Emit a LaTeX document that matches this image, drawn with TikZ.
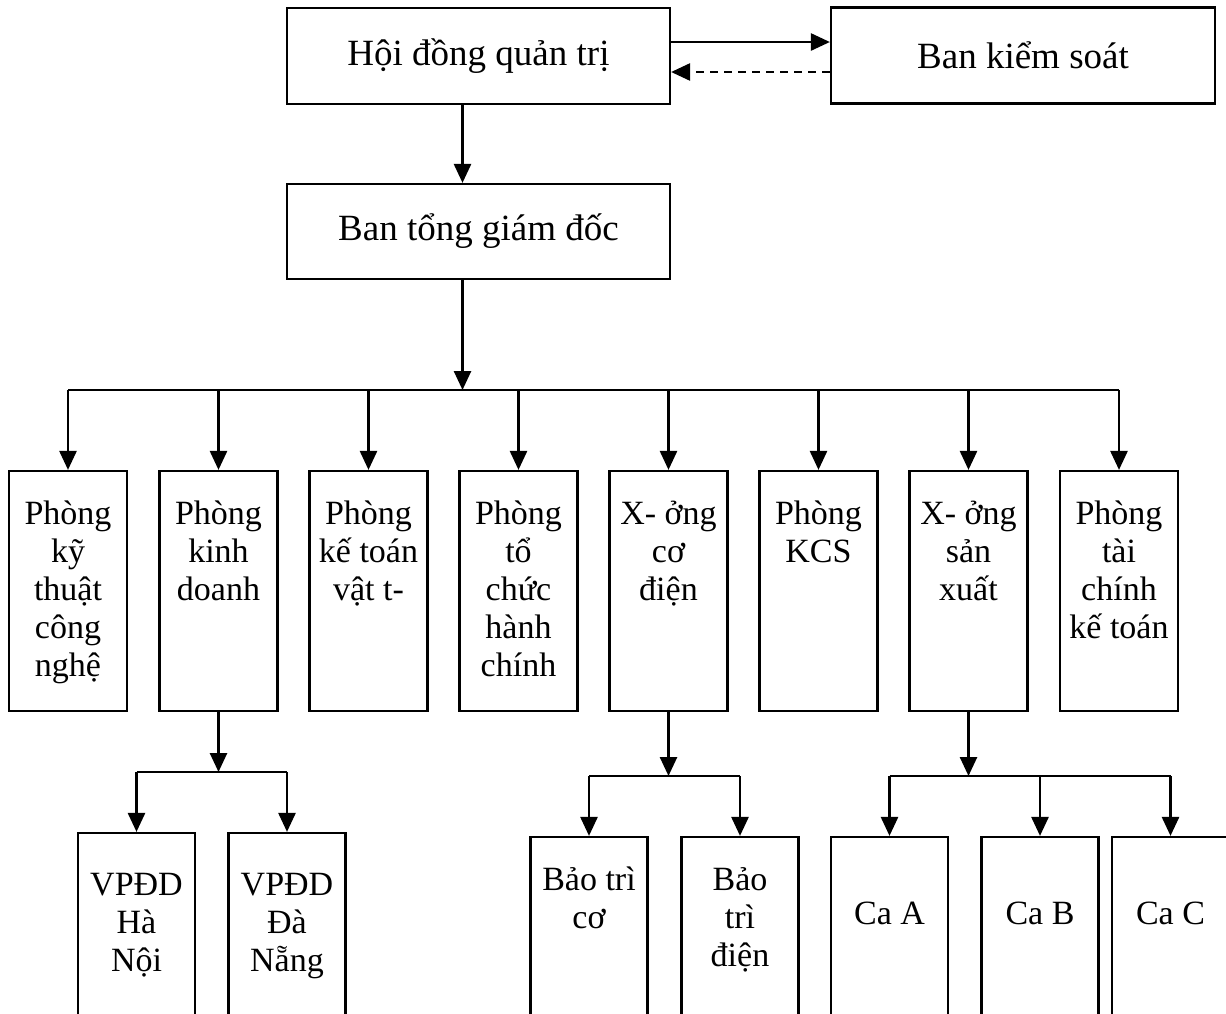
\documentclass[tikz,border=0pt]{standalone}
\usepackage{fontspec}
\setmainfont{Liberation Serif}
\usetikzlibrary{arrows.meta}

\newcommand{\toprule}{\lineskiplimit=-100pt\relax\rule{0pt}{30pt}}

\tikzset{
  head/.style={draw, line width=2.2pt, inner sep=0pt, minimum width=383pt, minimum height=96pt, font=\fontsize{37}{40}\selectfont},
  unit/.style={draw, line width=2.2pt, inner sep=0pt, minimum width=118pt, minimum height=240pt},
  sub/.style={draw, line width=2.2pt, inner sep=0pt, minimum width=117pt, minimum height=200pt},
  lbl/.style={anchor=north, inner sep=0pt, align=center, font=\fontsize{34}{38}\selectfont},
  arr/.style={line width=2.6pt, -{Triangle[length=19pt,width=17pt]}},
  bar/.style={line width=2.6pt},
}

\begin{document}
\begin{tikzpicture}[x=1pt, y=-1pt]
\useasboundingbox (0,0) rectangle (1226,1013);
\clip (0,0) rectangle (1226,1013);
% top level
\node[head] (hdqt) at (478.5,56) {Hội đồng quản trị};
\node[head, minimum width=384pt] (bks) at (1023,55.5) {Ban kiểm soát};
\node[head, minimum height=95pt] (btgd) at (478.5,231.5) {Ban tổng giám đốc};
\draw[arr] ([yshift=14pt]hdqt.east) -- ([yshift=14pt]hdqt.east -| bks.west);
\draw[arr, dash pattern=on 8pt off 6pt] ([yshift=-16pt]hdqt.east -| bks.west) -- ([yshift=-16pt]hdqt.east);
\draw[arr] ([xshift=-16pt]hdqt.south) -- ([xshift=-16pt]btgd.north);
\coordinate (bus) at (462.5,390);
\draw[arr] ([xshift=-16pt]btgd.south) -- (bus);

% departments
\node[unit] (pkt) at (68,591) {};
\node[unit] (pkd) at (218.5,591) {};
\node[unit] (pktvt) at (368.5,591) {};
\node[unit] (ptc) at (518.5,591) {};
\node[unit] (xcd) at (668.5,591) {};
\node[unit] (pkcs) at (818.5,591) {};
\node[unit] (xsx) at (968.5,591) {};
\node[unit] (ptckt) at (1119,591) {};
\node[lbl] (tpkt) at ([yshift=-24pt]pkt.north) {\toprule Phòng\\kỹ\\thuật\\công\\nghệ};
\node[lbl] (tpkd) at ([yshift=-24pt]pkd.north) {\toprule Phòng\\kinh\\doanh};
\node[lbl] (tpktvt) at ([yshift=-24pt]pktvt.north) {\toprule Phòng\\kế toán\\vật t-};
\node[lbl] (tptc) at ([yshift=-24pt]ptc.north) {\toprule Phòng\\tổ\\chức\\hành\\chính};
\node[lbl] (txcd) at ([yshift=-24pt]xcd.north) {\toprule X- ởng\\cơ\\điện};
\node[lbl] (tpkcs) at ([yshift=-24pt]pkcs.north) {\toprule Phòng\\KCS};
\node[lbl] (txsx) at ([yshift=-24pt]xsx.north) {\toprule X- ởng\\sản\\xuất};
\node[lbl] (tptckt) at ([yshift=-24pt]ptckt.north) {\toprule Phòng\\tài\\chính\\kế toán};
\draw[bar] (pkt.north |- bus) -- (ptckt.north |- bus);
\draw[arr] (pkt.north |- bus) -- (pkt.north);
\draw[arr] (pkd.north |- bus) -- (pkd.north);
\draw[arr] (pktvt.north |- bus) -- (pktvt.north);
\draw[arr] (ptc.north |- bus) -- (ptc.north);
\draw[arr] (xcd.north |- bus) -- (xcd.north);
\draw[arr] (pkcs.north |- bus) -- (pkcs.north);
\draw[arr] (xsx.north |- bus) -- (xsx.north);
\draw[arr] (ptckt.north |- bus) -- (ptckt.north);

% representative offices
\coordinate (kdbus) at (218.5,772);
\node[sub] (vphn) at (136.5,933) {};
\node[sub] (vpdn) at (287,933) {};
\node[lbl] (tvphn) at ([yshift=-33pt]vphn.north) {\toprule VPĐD\\Hà\\Nội};
\node[lbl] (tvpdn) at ([yshift=-33pt]vpdn.north) {\toprule VPĐD\\Đà\\Nẵng};
\draw[arr] (pkd.south) -- (kdbus);
\draw[bar] (vphn.north |- kdbus) -- (vpdn.north |- kdbus);
\draw[arr] (vphn.north |- kdbus) -- (vphn.north);
\draw[arr] (vpdn.north |- kdbus) -- (vpdn.north);

% maintenance
\coordinate (cdbus) at (668.5,776);
\node[sub] (btc) at (589,937) {};
\node[sub] (btd) at (740,937) {};
\node[lbl] (tbtc) at ([yshift=-24pt]btc.north) {\toprule Bảo trì\\cơ};
\node[lbl] (tbtd) at ([yshift=-24pt]btd.north) {\toprule Bảo\\trì\\điện};
\draw[arr] (xcd.south) -- (cdbus);
\draw[bar] (btc.north |- cdbus) -- (btd.north |- cdbus);
\draw[arr] (btc.north |- cdbus) -- (btc.north);
\draw[arr] (btd.north |- cdbus) -- (btd.north);

% shifts
\coordinate (sxbus) at (968.5,776);
\node[sub] (caa) at (889.5,937) {};
\node[sub] (cab) at (1040,937) {};
\node[sub] (cac) at (1170.5,937) {};
\node[lbl] (tcaa) at ([yshift=-58pt]caa.north) {\toprule Ca A};
\node[lbl] (tcab) at ([yshift=-58pt]cab.north) {\toprule Ca B};
\node[lbl] (tcac) at ([yshift=-58pt]cac.north) {\toprule Ca C};
\draw[arr] (xsx.south) -- (sxbus);
\draw[bar] (caa.north |- sxbus) -- (cac.north |- sxbus);
\draw[arr] (caa.north |- sxbus) -- (caa.north);
\draw[arr] (cab.north |- sxbus) -- (cab.north);
\draw[arr] (cac.north |- sxbus) -- (cac.north);
\end{tikzpicture}
\end{document}
